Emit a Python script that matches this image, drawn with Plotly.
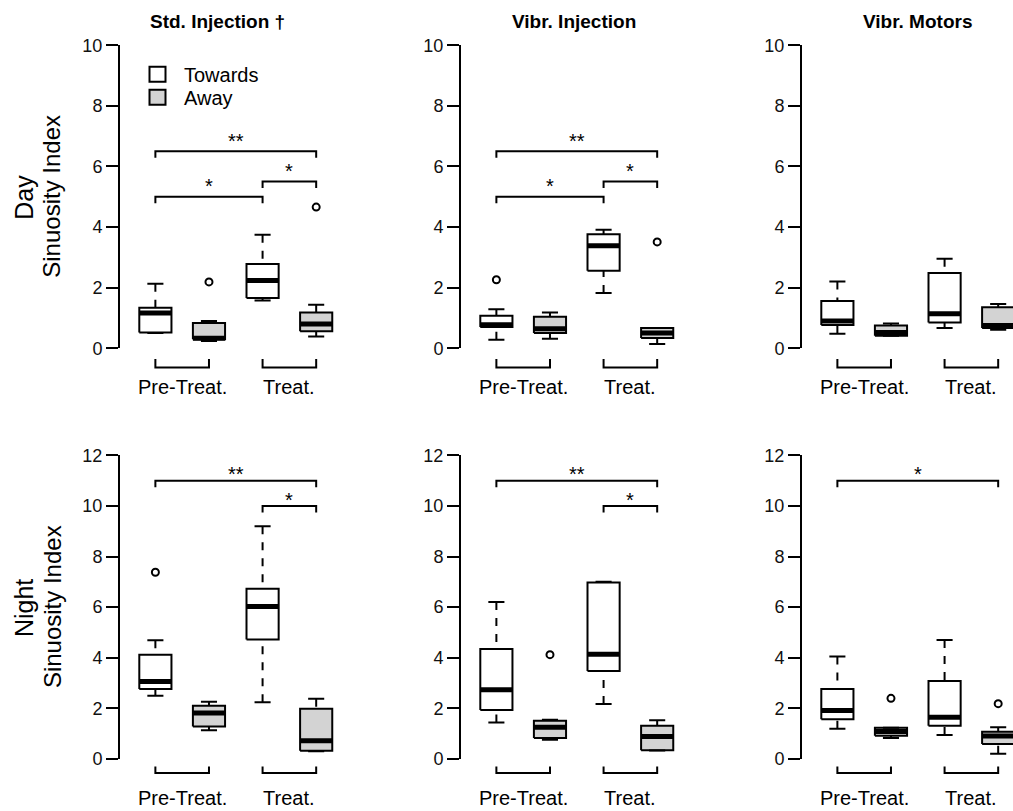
import plotly.graph_objects as go

# ---- data: five-number summaries (min, q1, median, q3, max) per box ----
# box order in each panel: Towards/Pre-Treat., Away/Pre-Treat., Towards/Treat., Away/Treat.
day_std = [(0.50, 0.52, 1.16, 1.34, 2.13), (0.24, 0.30, 0.33, 0.83, 0.90),
           (1.58, 1.66, 2.24, 2.78, 3.75), (0.39, 0.56, 0.80, 1.18, 1.44)]
day_std_out = [[], [2.19], [], [4.66]]

day_vinj = [(0.28, 0.70, 0.78, 1.07, 1.29), (0.31, 0.50, 0.64, 1.04, 1.18),
            (1.82, 2.56, 3.38, 3.76, 3.91), (0.14, 0.34, 0.50, 0.67, 0.67)]
day_vinj_out = [[2.26], [], [], [3.51]]

day_vmot = [(0.48, 0.77, 0.90, 1.56, 2.20), (0.41, 0.41, 0.52, 0.75, 0.82),
            (0.67, 0.85, 1.14, 2.48, 2.95), (0.61, 0.67, 0.75, 1.35, 1.46)]
day_vmot_out = [[], [], [], []]

night_std = [(2.49, 2.76, 3.06, 4.12, 4.69), (1.13, 1.28, 1.81, 2.10, 2.26),
             (2.24, 4.72, 6.02, 6.73, 9.20), (0.30, 0.32, 0.71, 1.98, 2.38)]
night_std_out = [[7.38], [], [], []]

night_vinj = [(1.44, 1.93, 2.73, 4.34, 6.20), (0.75, 0.82, 1.25, 1.50, 1.54),
              (2.17, 3.47, 4.14, 6.97, 7.00), (0.33, 0.34, 0.88, 1.31, 1.52)]
night_vinj_out = [[], [4.12], [], []]

night_vmot = [(1.19, 1.56, 1.91, 2.76, 4.05), (0.82, 0.91, 1.08, 1.23, 1.23),
              (0.94, 1.31, 1.64, 3.08, 4.70), (0.20, 0.58, 0.90, 1.07, 1.25)]
night_vmot_out = [[], [2.39], [], [2.18]]

positions = [1, 2, 3, 4]
groups = ["Towards", "Away", "Towards", "Away"]
group_fill = {"Towards": "#FFFFFF", "Away": "#D3D3D3"}
phase_labels = ["Pre-Treat.", "Treat."]
phase_spans = [(1, 2), (3, 4)]

panel_titles = ["Std. Injection †", "Vibr. Injection", "Vibr. Motors"]
row_names = ["Day", "Night"]

# significance brackets: (from, to, height, label)
sig_day = [[(1, 4, 6.5, "**"), (1, 3, 5.0, "*"), (3, 4, 5.5, "*")],
           [(1, 4, 6.5, "**"), (1, 3, 5.0, "*"), (3, 4, 5.5, "*")],
           []]
sig_night = [[(1, 4, 11, "**"), (3, 4, 10, "*")],
             [(1, 4, 11, "**"), (3, 4, 10, "*")],
             [(1, 4, 11, "*")]]

rows = [
    dict(stats=[day_std, day_vinj, day_vmot],
         outs=[day_std_out, day_vinj_out, day_vmot_out],
         sig=sig_day, ymax=10, ticks=[0, 2, 4, 6, 8, 10]),
    dict(stats=[night_std, night_vinj, night_vmot],
         outs=[night_std_out, night_vinj_out, night_vmot_out],
         sig=sig_night, ymax=12, ticks=[0, 2, 4, 6, 8, 10, 12]),
]

# ---- layout geometry (target pixel positions on the page) ----
W, H = 1013, 811
FONT = "Liberation Sans, Arial, sans-serif"
axis_left_px = [120, 461, 802]
px_per_x = 53.6
x_start = 0.34
plot_w_px = 4.32 * px_per_x
row_zero_px = [348.5, 759.0]          # pixel row of y = 0
row_top_px = [45.5, 455.7]            # pixel row of the top tick
row_bracket_px = [(367.7, 359.3), (773.3, 766.7)]   # phase brackets below axis
row_label_px = [387.5, 798.0]
row_star_px = [10.5, 6.5]             # star offset above significance bracket
sig_tick_px = 6.5
box_w = 0.6
staple_w = 0.3

# vertical page placement of the drawing area
V_OFF, V_SCALE = 10.25, 0.9753


def px_x(p):
    return p / W


def px_y(p):
    return 1 - ((p - V_OFF) / V_SCALE) / H


fig = go.Figure()
layout = dict(
    width=W, height=H, margin=dict(l=0, r=0, t=0, b=0),
    paper_bgcolor="white", plot_bgcolor="white", showlegend=False,
    font=dict(family=FONT, color="black"),
)
annotations = []
shapes = []

for r, row in enumerate(rows):
    zero = row_zero_px[r]
    top = row_top_px[r]
    ymax = row["ymax"]
    ppy = (zero - top) / ymax
    for c in range(3):
        k = r * 3 + c + 1
        xa = "x" if k == 1 else f"x{k}"
        ya = "y" if k == 1 else f"y{k}"
        left = axis_left_px[c]
        right = min(left + plot_w_px, W)
        layout[f"xaxis{'' if k == 1 else k}"] = dict(
            domain=[px_x(left), px_x(right)],
            range=[x_start, x_start + (right - left) / px_per_x],
            visible=False, anchor=ya, fixedrange=True,
        )
        layout[f"yaxis{'' if k == 1 else k}"] = dict(
            domain=[px_y(zero), px_y(top)],
            range=[0, ymax], anchor=xa,
            showline=True, linewidth=2, linecolor="black",
            ticks="outside", ticklen=12, tickwidth=2, tickcolor="black",
            tickvals=row["ticks"], tickfont=dict(size=18, color="#111111"),
            showgrid=False, zeroline=False, fixedrange=True,
        )

        stats = row["stats"][c]
        outs = row["outs"][c]
        for pos, grp, st, ol in zip(positions, groups, stats, outs):
            lo, q1, med, q3, hi = st
            # box
            fig.add_trace(go.Scatter(
                x=[pos - box_w / 2, pos + box_w / 2, pos + box_w / 2, pos - box_w / 2, pos - box_w / 2],
                y=[q1, q1, q3, q3, q1], mode="lines", fill="toself",
                fillcolor=group_fill[grp], line=dict(color="black", width=2),
                xaxis=xa, yaxis=ya, hoverinfo="skip"))
            # whiskers (dashed), drawn from the staple towards the box
            for a, b in ((hi, q3), (lo, q1)):
                if a != b:
                    fig.add_trace(go.Scatter(
                        x=[pos, pos], y=[a, b], mode="lines",
                        line=dict(color="black", width=2, dash="8px,8px"),
                        xaxis=xa, yaxis=ya, hoverinfo="skip"))
            # staples
            for v in (lo, hi):
                fig.add_trace(go.Scatter(
                    x=[pos - staple_w / 2, pos + staple_w / 2], y=[v, v], mode="lines",
                    line=dict(color="black", width=2),
                    xaxis=xa, yaxis=ya, hoverinfo="skip"))
            # median
            fig.add_trace(go.Scatter(
                x=[pos - box_w / 2, pos + box_w / 2], y=[med, med], mode="lines",
                line=dict(color="black", width=5),
                xaxis=xa, yaxis=ya, hoverinfo="skip"))
            # outliers
            if ol:
                fig.add_trace(go.Scatter(
                    x=[pos] * len(ol), y=ol, mode="markers",
                    marker=dict(symbol="circle-open", size=7, color="black",
                                line=dict(width=2, color="black")),
                    xaxis=xa, yaxis=ya, hoverinfo="skip"))

        # significance brackets
        t = sig_tick_px / ppy
        for a, b, h, lab in row["sig"][c]:
            fig.add_trace(go.Scatter(
                x=[a, a, b, b], y=[h - t, h, h, h - t], mode="lines",
                line=dict(color="black", width=2),
                xaxis=xa, yaxis=ya, hoverinfo="skip"))
            annotations.append(dict(
                x=(a + b) / 2, y=h + row_star_px[r] / ppy, xref=xa, yref=ya,
                text=lab, showarrow=False, font=dict(size=20, color="black"),
                xanchor="center", yanchor="middle"))

        # phase brackets below the axis
        yb, yt = row_bracket_px[r]
        for (a, b), lab in zip(phase_spans, phase_labels):
            shapes.append(dict(
                type="path", xref=xa, yref="paper",
                path=f"M {a},{px_y(yt)} L {a},{px_y(yb)} L {b},{px_y(yb)} L {b},{px_y(yt)}",
                line=dict(color="black", width=2)))
            annotations.append(dict(
                x=(a + b) / 2, y=px_y(row_label_px[r]), xref=xa, yref="paper",
                text=lab, showarrow=False, font=dict(size=20, color="black"),
                xanchor="center", yanchor="middle"))

    # row titles
    mid = (zero + top) / 2
    annotations.append(dict(x=px_x(24), y=px_y(mid + 1), xref="paper", yref="paper",
                            text=row_names[r], textangle=-90, showarrow=False,
                            font=dict(size=25, color="black"),
                            xanchor="center", yanchor="middle"))
    annotations.append(dict(x=px_x(52), y=px_y(mid), xref="paper", yref="paper",
                            text="Sinuosity Index", textangle=-90, showarrow=False,
                            font=dict(size=24, color="black"),
                            xanchor="center", yanchor="middle"))

# panel titles
for cx, title in zip([217.5, 574, 917.5], panel_titles):
    annotations.append(dict(x=px_x(cx), y=px_y(22), xref="paper", yref="paper",
                            text=f"<b>{title}</b>", showarrow=False,
                            font=dict(size=19, color="black"),
                            xanchor="center", yanchor="middle"))

# legend keys
for name, cy in zip(["Towards", "Away"], [74.5, 97.5]):
    shapes.append(dict(type="rect", xref="paper", yref="paper",
                       x0=px_x(149.5), x1=px_x(165.5), y0=px_y(cy + 7.5), y1=px_y(cy - 7.5),
                       fillcolor=group_fill[name], line=dict(color="black", width=2)))
    annotations.append(dict(x=px_x(182), y=px_y(cy + 1), xref="paper", yref="paper",
                            text=name, showarrow=False, font=dict(size=20, color="black"),
                            xanchor="left", yanchor="middle"))

layout["annotations"] = annotations
layout["shapes"] = shapes
fig.update_layout(**layout)
fig.write_html("out.html")
